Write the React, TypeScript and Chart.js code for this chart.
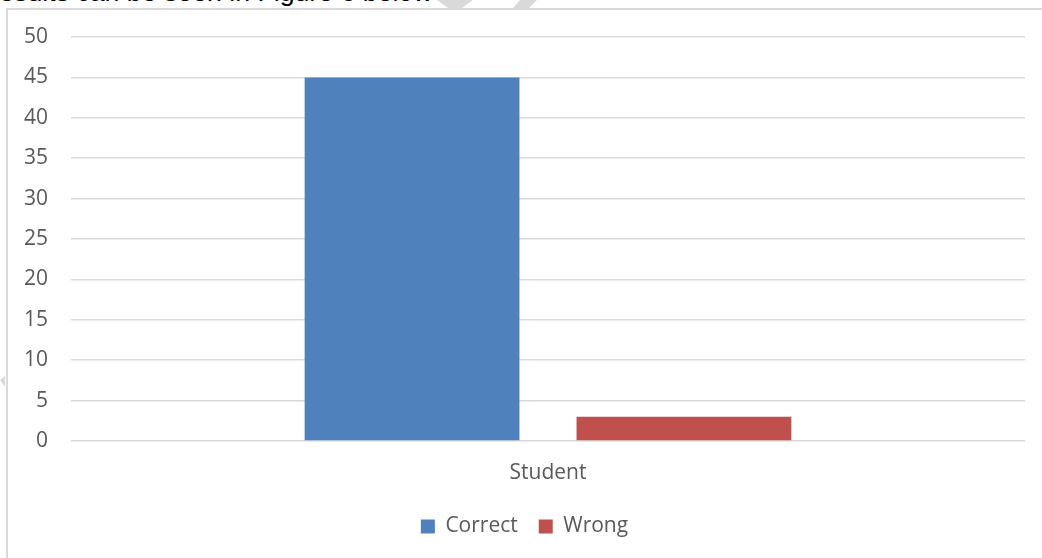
import React, { useEffect, useRef } from "react";
import { Chart, registerables } from "chart.js";

Chart.register(...registerables);

const categories = ["Student"];
const correctValues = [45];
const wrongValues = [3];
const seriesNames = ["Correct", "Wrong"];
const yTicksMax = 50;
const yTickStep = 5;

const FONT = "'Open Sans', 'Noto Sans', sans-serif";
const TEXT_COLOR = "#595959";
const GRID_COLOR = "#d9d9d9";

export default function App() {
  const canvasRef = useRef<HTMLCanvasElement | null>(null);

  useEffect(() => {
    const canvas = canvasRef.current;
    if (!canvas) return;
    const chart = new Chart(canvas, {
      type: "bar",
      data: {
        labels: categories,
        datasets: [
          {
            label: seriesNames[0],
            data: correctValues,
            backgroundColor: "#4F81BD",
            categoryPercentage: 0.57,
            barPercentage: 0.79,
          },
          {
            label: seriesNames[1],
            data: wrongValues,
            backgroundColor: "#C0504D",
            categoryPercentage: 0.57,
            barPercentage: 0.79,
          },
        ],
      },
      options: {
        animation: false,
        responsive: false,
        maintainAspectRatio: false,
        layout: { padding: { left: 16, right: 17, top: 27, bottom: 11 } },
        plugins: {
          tooltip: { enabled: false },
          legend: {
            position: "bottom",
            labels: {
              boxWidth: 14,
              boxHeight: 14,
              padding: 21,
              color: TEXT_COLOR,
              font: { family: FONT, size: 21 },
            },
          },
        },
        scales: {
          x: {
            grid: { display: false, drawTicks: false },
            border: { display: false },
            ticks: {
              color: TEXT_COLOR,
              font: { family: FONT, size: 21 },
              padding: 19,
            },
            afterFit: (scale: any) => {
              scale.height = 54;
            },
          },
          y: {
            min: 0,
            max: yTicksMax,
            grid: { color: GRID_COLOR, lineWidth: 1.5, drawTicks: false },
            border: { display: false },
            ticks: {
              stepSize: yTickStep,
              color: TEXT_COLOR,
              font: { family: FONT, size: 21 },
              padding: 23,
            },
            afterFit: (scale: any) => {
              scale.width = 47;
              scale.paddingTop = 0;
              scale.paddingBottom = 0;
            },
          },
        },
      },
    });
    return () => chart.destroy();
  }, []);

  return (
    <div
      style={{
        position: "fixed",
        left: 0,
        top: 0,
        width: 1042,
        height: 558,
        overflow: "hidden",
        background: "#ffffff",
      }}
    >
      <div
        style={{
          position: "absolute",
          left: -20,
          top: -21,
          fontFamily: "'Liberation Sans', Arial, sans-serif",
          fontSize: 26.7,
          lineHeight: 1,
          color: "#000000",
          whiteSpace: "nowrap",
        }}
      >
        Results can be seen in Figure 6 below
      </div>
      <svg
        width={1042}
        height={558}
        style={{ position: "absolute", left: 0, top: 0 }}
      >
        <polygon points="437,0 473,0 462,8 448,8" fill="#d9d9d9" />
        <polygon points="520,0 537,0 529,8 513,8" fill="#d9d9d9" />
        <polygon points="0,380 5,376 5,387" fill="#d9d9d9" />
      </svg>
      <div
        style={{
          position: "absolute",
          left: 6,
          top: 8,
          width: 1040,
          height: 560,
          borderLeft: "2px solid #d9d9d9",
          borderTop: "2px solid #d9d9d9",
          boxSizing: "border-box",
        }}
      />
      <canvas
        ref={canvasRef}
        width={1034}
        height={548}
        style={{ position: "absolute", left: 8, top: 10, width: 1034, height: 548 }}
      />
    </div>
  );
}
